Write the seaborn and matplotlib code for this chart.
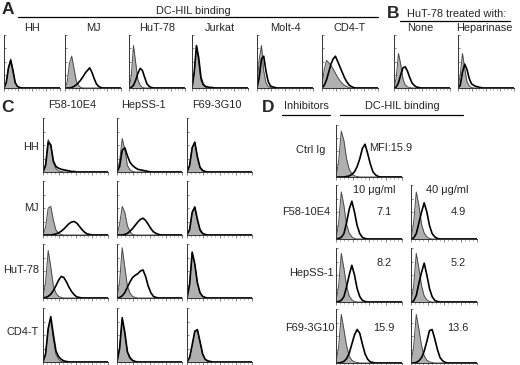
import numpy as np
import matplotlib
matplotlib.use("Agg")
import matplotlib.pyplot as plt
import seaborn as sns
from matplotlib.lines import Line2D

# x positions of the histogram bins (fraction of the log-fluorescence axis)
GRID = np.arange(26) * 0.04

# ---- Panel A: DC-HIL binding to cell lines ----
A_LABELS = ["HH", "MJ", "HuT-78", "Jurkat", "Molt-4", "CD4-T"]
A_CTRL = [
    [0, 0.10, 0.38, 0.55, 0.32, 0.10, 0.03, 0.01],
    [0, 0.12, 0.47, 0.60, 0.37, 0.14, 0.05, 0.01],
    [0, 0.22, 0.80, 0.47, 0.15, 0.05, 0.01],
    [0, 0.27, 0.78, 0.47, 0.14, 0.05, 0.01],
    [0, 0.55, 0.80, 0.32, 0.10, 0.03, 0.01],
    [0.05, 0.35, 0.52, 0.48, 0.42, 0.36, 0.28, 0.20, 0.14, 0.09, 0.05, 0.03, 0.01],
]
A_BIND = [
    [0, 0.10, 0.38, 0.52, 0.33, 0.10, 0.03, 0.01],
    [0, 0, 0, 0.01, 0.03, 0.06, 0.10, 0.15, 0.21, 0.28, 0.33, 0.38, 0.30, 0.18, 0.08, 0.03, 0.01],
    [0, 0.01, 0.05, 0.15, 0.28, 0.37, 0.33, 0.20, 0.08, 0.03, 0.01],
    [0, 0.30, 0.80, 0.57, 0.20, 0.07, 0.03, 0.02, 0.01, 0.01],
    [0, 0.20, 0.55, 0.60, 0.32, 0.12, 0.04, 0.02, 0.01],
    [0, 0.05, 0.15, 0.30, 0.45, 0.55, 0.60, 0.50, 0.40, 0.30, 0.20, 0.12, 0.06, 0.03, 0.01],
]

# ---- Panel B: HuT-78 treated with ----
B_LABELS = ["None", "Heparinase"]
B_CTRL = [
    [0, 0.20, 0.65, 0.45, 0.17, 0.06, 0.02, 0.01],
    [0, 0.25, 0.65, 0.37, 0.12, 0.04, 0.01],
]
B_BIND = [
    [0, 0.02, 0.10, 0.25, 0.38, 0.40, 0.32, 0.20, 0.10, 0.05, 0.02, 0.01],
    [0, 0.05, 0.30, 0.45, 0.35, 0.18, 0.08, 0.05, 0.03, 0.02, 0.01],
]

# ---- Panel C: antibodies (columns) x cells (rows) ----
C_COLS = ["F58-10E4", "HepSS-1", "F69-3G10"]
C_ROWS = ["HH", "MJ", "HuT-78", "CD4-T"]
C_CTRL = [
    [[0, 0.15, 0.60, 0.50, 0.17, 0.06, 0.02, 0.01],
     [0, 0.20, 0.62, 0.42, 0.12, 0.04, 0.01],
     [0, 0.12, 0.45, 0.56, 0.27, 0.07, 0.02, 0.01]],
    [[0, 0.15, 0.50, 0.53, 0.27, 0.09, 0.03, 0.01],
     [0, 0.20, 0.53, 0.42, 0.17, 0.06, 0.01],
     [0, 0.10, 0.40, 0.50, 0.27, 0.08, 0.02, 0.01]],
    [[0, 0.30, 0.88, 0.57, 0.22, 0.09, 0.03, 0.01],
     [0, 0.30, 0.93, 0.57, 0.22, 0.09, 0.03, 0.01],
     [0, 0.25, 0.83, 0.62, 0.27, 0.09, 0.03, 0.01]],
    [[0, 0.15, 0.60, 0.80, 0.42, 0.14, 0.05, 0.01],
     [0, 0.25, 0.80, 0.52, 0.17, 0.06, 0.02, 0.01],
     [0, 0.08, 0.30, 0.55, 0.58, 0.37, 0.14, 0.05, 0.01]],
]
C_BIND = [
    [[0, 0.12, 0.55, 0.50, 0.20, 0.10, 0.07, 0.05, 0.04, 0.03, 0.02, 0.01, 0.01],
     [0, 0.10, 0.40, 0.45, 0.30, 0.18, 0.12, 0.08, 0.05, 0.04, 0.03, 0.02, 0.01],
     [0, 0.12, 0.45, 0.55, 0.28, 0.09, 0.03, 0.01]],
    [[0, 0, 0, 0, 0.01, 0.02, 0.04, 0.07, 0.11, 0.16, 0.21, 0.24, 0.25, 0.22, 0.16, 0.10, 0.05, 0.02, 0.01],
     [0, 0, 0, 0.01, 0.03, 0.07, 0.12, 0.18, 0.24, 0.29, 0.31, 0.27, 0.20, 0.12, 0.06, 0.03, 0.01],
     [0, 0.10, 0.42, 0.52, 0.29, 0.10, 0.03, 0.01]],
    [[0, 0.01, 0.03, 0.07, 0.14, 0.23, 0.33, 0.40, 0.38, 0.30, 0.20, 0.12, 0.06, 0.02, 0.01],
     [0, 0.01, 0.04, 0.10, 0.20, 0.30, 0.38, 0.42, 0.45, 0.50, 0.52, 0.40, 0.22, 0.10, 0.03, 0.01],
     [0, 0.25, 0.85, 0.63, 0.28, 0.10, 0.03, 0.01]],
    [[0, 0.15, 0.62, 0.84, 0.50, 0.20, 0.10, 0.05, 0.02, 0.01],
     [0, 0.25, 0.82, 0.55, 0.19, 0.08, 0.03, 0.01],
     [0, 0.08, 0.32, 0.57, 0.60, 0.38, 0.15, 0.05, 0.02, 0.01]],
]

# ---- Panel D: inhibitors ----
D_ROWS = ["F58-10E4", "HepSS-1", "F69-3G10"]
D_DOSES = ["10 \u03bcg/ml", "40 \u03bcg/ml"]
D_MFI = [["7.1", "4.9"], ["8.2", "5.2"], ["15.9", "13.6"]]
D_REF_CTRL = [0, 0.30, 0.88, 0.70, 0.35, 0.15, 0.06, 0.02, 0.01]
D_REF_BIND = [0, 0, 0, 0, 0.01, 0.02, 0.05, 0.10, 0.20, 0.35, 0.55, 0.63, 0.45, 0.25, 0.10, 0.04, 0.01]
D_CTRL = [
    [[0, 0.30, 0.87, 0.62, 0.27, 0.11, 0.04, 0.01],
     [0, 0.30, 0.87, 0.62, 0.27, 0.11, 0.04, 0.01]],
    [[0, 0.30, 0.90, 0.62, 0.30, 0.11, 0.04, 0.01],
     [0, 0.30, 0.90, 0.62, 0.30, 0.11, 0.04, 0.01]],
    [[0, 0.30, 0.90, 0.62, 0.32, 0.13, 0.05, 0.02, 0.01],
     [0, 0.30, 0.90, 0.62, 0.32, 0.13, 0.05, 0.02, 0.01]],
]
D_BIND = [
    [[0, 0.01, 0.03, 0.10, 0.30, 0.55, 0.70, 0.50, 0.25, 0.10, 0.03, 0.01],
     [0, 0.02, 0.10, 0.30, 0.50, 0.67, 0.50, 0.25, 0.10, 0.04, 0.01]],
    [[0, 0.01, 0.03, 0.10, 0.28, 0.50, 0.68, 0.50, 0.25, 0.10, 0.03, 0.01],
     [0, 0.02, 0.12, 0.35, 0.55, 0.72, 0.50, 0.25, 0.10, 0.03, 0.01]],
    [[0, 0, 0.01, 0.03, 0.08, 0.18, 0.35, 0.52, 0.62, 0.55, 0.35, 0.17, 0.07, 0.02, 0.01],
     [0, 0, 0.01, 0.04, 0.10, 0.22, 0.40, 0.60, 0.62, 0.45, 0.25, 0.10, 0.04, 0.01]],
]

W, H = 520, 365
GRAY = "#b0b0b0"
FS = 7.9


def pad(vals):
    arr = np.asarray(vals, dtype=float)
    return np.pad(arr, (0, len(GRID) - len(arr)))


def addPanel(fig, left, top, width, height, ctrl, bind):
    ax = fig.add_axes([left / W, 1 - (top + height) / H, width / W, height / H])
    c = pad(ctrl)
    b = pad(bind)
    ax.fill_between(GRID, 0, c, color=GRAY, lw=0)
    sns.lineplot(x=GRID, y=c, ax=ax, color="#4a4a4a", lw=0.7)
    sns.lineplot(x=GRID, y=b, ax=ax, color="black", lw=1.2)
    ax.set_xlim(0, 1)
    ax.set_ylim(0, 1)
    for s in ["top", "right"]:
        ax.spines[s].set_visible(False)
    for s in ["left", "bottom"]:
        ax.spines[s].set_linewidth(0.7)
        ax.spines[s].set_color("#333333")
    ax.set_xticks(np.linspace(0, 1, 5))
    ax.set_xticks(np.linspace(0, 1, 17), minor=True)
    ax.set_yticks([0.25, 0.5, 0.75, 1.0])
    ax.tick_params(axis="x", which="major", length=2.2, width=0.5, direction="out", colors="#555555")
    ax.tick_params(axis="x", which="minor", length=1.2, width=0.4, direction="out", colors="#777777")
    ax.tick_params(axis="y", length=1.5, width=0.5, direction="in", colors="#555555")
    ax.set_xticklabels([])
    ax.set_yticklabels([])
    ax.set_xlabel("")
    ax.set_ylabel("")
    return ax


def txt(fig, x, y, s, ha="center", size=FS, weight="normal"):
    fig.text(x / W, 1 - y / H, s, ha=ha, va="center", fontsize=size, fontweight=weight)


def hline(fig, x0, x1, y):
    fig.add_artist(Line2D([x0 / W, x1 / W], [1 - y / H, 1 - y / H],
                          transform=fig.transFigure, color="black", lw=0.9))


def makeFigure():
    sns.set_style("ticks")
    plt.rcParams["font.family"] = ["Liberation Sans", "DejaVu Sans"]
    fig = plt.figure(figsize=(W / 100, H / 100), dpi=100)

    # Panel A
    txt(fig, 8, 9, "A", size=12.5, weight="bold")
    txt(fig, 193, 11, "DC-HIL binding")
    hline(fig, 18, 378, 17)
    aLefts = [4, 65, 129, 192, 257, 322]
    for i, lab in enumerate(A_LABELS):
        addPanel(fig, aLefts[i], 35, 56, 53, A_CTRL[i], A_BIND[i])
        txt(fig, aLefts[i] + 28, 28, lab)

    # Panel B
    txt(fig, 393, 14, "B", size=12.5, weight="bold")
    txt(fig, 457, 14, "HuT-78 treated with:")
    hline(fig, 400, 510, 21)
    bLefts = [394, 458]
    for i, lab in enumerate(B_LABELS):
        addPanel(fig, bLefts[i], 35, 56, 53, B_CTRL[i], B_BIND[i])
        txt(fig, bLefts[i] + 26, 28, lab)

    # Panel C
    txt(fig, 8, 107, "C", size=12.5, weight="bold")
    cLefts = [43, 117, 187]
    cTops = [118, 181, 244, 308]
    cHead = [72, 143, 217]
    rowY = [147, 208, 270, 332]
    for j, col in enumerate(C_COLS):
        txt(fig, cHead[j], 105, col)
    for i, row in enumerate(C_ROWS):
        txt(fig, 39, rowY[i], row, ha="right")
        for j in range(len(C_COLS)):
            addPanel(fig, cLefts[j], cTops[i], 65, 54, C_CTRL[i][j], C_BIND[i][j])

    # Panel D
    txt(fig, 268, 108, "D", size=12.5, weight="bold")
    txt(fig, 306, 106, "Inhibitors")
    txt(fig, 402, 106, "DC-HIL binding")
    hline(fig, 282, 330, 115)
    hline(fig, 340, 463, 115)
    addPanel(fig, 336, 125, 66, 52, D_REF_CTRL, D_REF_BIND)
    txt(fig, 325, 150, "Ctrl Ig", ha="right")
    txt(fig, 369, 148, "MFI:15.9", ha="left")
    dLefts = [336, 411]
    dTops = [185, 248, 309]
    dRowY = [212, 273, 328]
    dRowX = [330, 334, 335]
    for k, dose in enumerate(D_DOSES):
        txt(fig, [374, 447][k], 190, dose)
    for i, row in enumerate(D_ROWS):
        txt(fig, dRowX[i], dRowY[i], row, ha="right")
        for k in range(len(D_DOSES)):
            addPanel(fig, dLefts[k], dTops[i], 66, 54, D_CTRL[i][k], D_BIND[i][k])
        txt(fig, 384, [212, 263, 328][i], D_MFI[i][0])
        txt(fig, 458, [212, 263, 328][i], D_MFI[i][1])

    fig.savefig("out.png", dpi=100)
    plt.close(fig)


if __name__ == "__main__":
    makeFigure()
